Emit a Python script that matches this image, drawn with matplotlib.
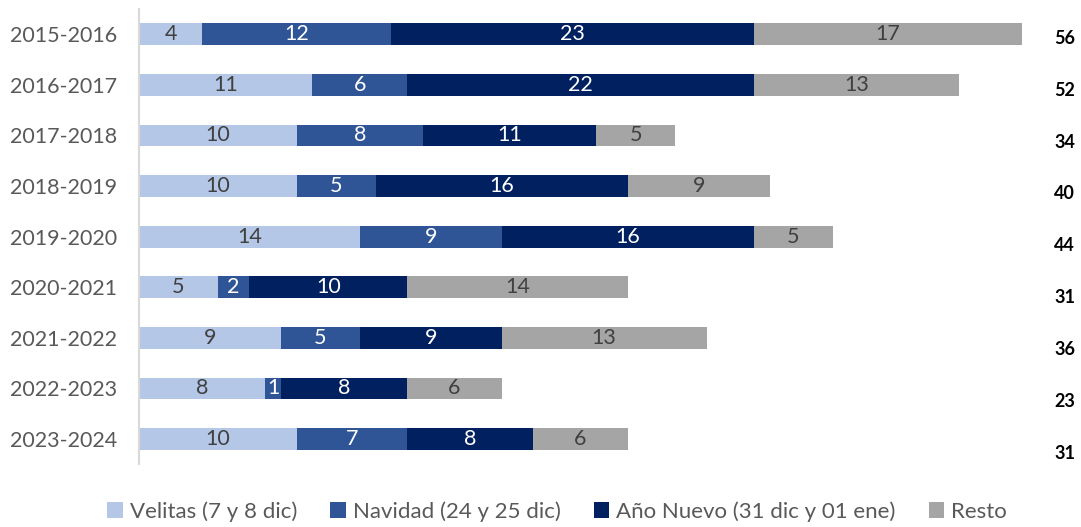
import numpy as np
import matplotlib.pyplot as plt
from matplotlib import transforms

plt.rcParams['font.family'] = ['Lato', 'DejaVu Sans']

temporadas = ['2015-2016', '2016-2017', '2017-2018', '2018-2019', '2019-2020',
              '2020-2021', '2021-2022', '2022-2023', '2023-2024']
velitas = [4, 11, 10, 10, 14, 5, 9, 8, 10]
navidad = [12, 6, 8, 5, 9, 2, 5, 1, 7]
anio_nuevo = [23, 22, 11, 16, 16, 10, 9, 8, 8]
resto = [17, 13, 5, 9, 5, 14, 13, 6, 6]
totales = [56, 52, 34, 40, 44, 31, 36, 23, 31]

series = [
    ('Velitas (7 y 8 dic)', velitas, '#B4C7E7', '#404040'),
    ('Navidad (24 y 25 dic)', navidad, '#2F5597', 'white'),
    ('Año Nuevo (31 dic y 01 ene)', anio_nuevo, '#002060', 'white'),
    ('Resto', resto, '#A5A5A5', '#404040'),
]

fig = plt.figure(figsize=(10.81, 5.27), dpi=100)
ax = fig.add_axes([0.1286, 0.119, 0.8314, 0.864])

y = np.arange(len(temporadas))
left = np.zeros(len(temporadas))
for nombre, vals, color, tcolor in series:
    bars = ax.barh(y, vals, left=left, height=0.43, color=color, label=nombre, linewidth=0)
    ax.bar_label(bars, label_type='center', color=tcolor, fontsize=15.5)
    left += np.array(vals)

for i, t in enumerate(totales):
    tr = transforms.offset_copy(ax.transData, fig=fig, x=0, y=-(4 + 1.3 * i), units='dots')
    ax.text(58.7, i, str(t), transform=tr, ha='center', va='center',
            fontsize=13, fontweight='bold', color='black', clip_on=False)

ax.set_xlim(0, 57)
ax.set_ylim(len(temporadas) - 0.5, -0.5)
ax.set_yticks(y)
ax.set_yticklabels(temporadas, fontsize=15.5, color='#595959')
ax.set_xticks([])
ax.tick_params(axis='y', length=0, pad=16)
for s in ['top', 'right', 'bottom']:
    ax.spines[s].set_visible(False)
ax.spines['left'].set_color('#D9D9D9')
ax.spines['left'].set_linewidth(1.5)

fig.legend(loc='lower center', bbox_to_anchor=(557 / 1081, -0.028), ncol=4, frameon=False,
           fontsize=16, labelcolor='#595959', handlelength=0.7, handleheight=0.7,
           handletextpad=0.3, columnspacing=1.5)

fig.savefig('out.png', dpi=100)
